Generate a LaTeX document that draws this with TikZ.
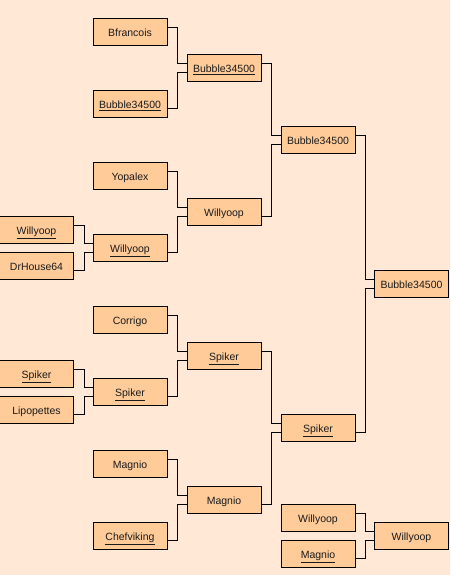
\documentclass[tikz,border=0pt]{standalone}
\usepackage{fontspec}
\setmainfont{Liberation Sans}
\definecolor{bgc}{HTML}{FFE9D6}
\definecolor{boxc}{HTML}{FFCC99}
\definecolor{txtc}{HTML}{1A1A1A}
\begin{document}
\begin{tikzpicture}[x=1pt,y=-1pt,
  team/.style={draw=black,line width=0.9pt,fill=boxc,minimum width=74pt,minimum height=27pt,inner sep=0pt,text height=10.5pt,text depth=0pt,text=txtc,font=\fontsize{10.5}{12}\selectfont},
  link/.style={draw=black,line width=0.9pt}]
\fill[bgc] (0,0) rectangle (450,575);
\useasboundingbox (0,0) rectangle (450,575);
% round 0
\node[team] (w0) at (36.5,229.5) {\underline{Willyoop}};
\node[team] (dh) at (36.5,265.5) {DrHouse64};
\node[team] (s0) at (36.5,373.5) {\underline{Spiker}};
\node[team] (lp) at (36.5,409.5) {Lipopettes};
% round 1
\node[team] (bf) at (130,31.5) {Bfrancois};
\node[team] (b1) at (130,103.5) {\underline{Bubble34500}};
\node[team] (yo) at (130,175.5) {Yopalex};
\node[team] (w1) at (130,247.5) {\underline{Willyoop}};
\node[team] (co) at (130,319.5) {Corrigo};
\node[team] (s1) at (130,391.5) {\underline{Spiker}};
\node[team] (m1) at (130,463.5) {Magnio};
\node[team] (ch) at (130,535.5) {\underline{Chefviking}};
% round 2
\node[team] (b2) at (224,67.5) {\underline{Bubble34500}};
\node[team] (w2) at (224,211.5) {Willyoop};
\node[team] (s2) at (224,355.5) {\underline{Spiker}};
\node[team] (m2) at (224,499.5) {Magnio};
% round 3
\node[team] (b3) at (318,139.5) {Bubble34500};
\node[team] (s3) at (318,427.5) {\underline{Spiker}};
% final
\node[team] (b4) at (411.5,283.5) {Bubble34500};
% separate match
\node[team] (wb) at (318,517.5) {Willyoop};
\node[team] (mb) at (318,553.5) {\underline{Magnio}};
\node[team] (wf) at (411.5,535.5) {Willyoop};
% connectors
\foreach \t/\b/\p in {w0/dh/w1, s0/lp/s1, bf/b1/b2, yo/w1/w2, co/s1/s2, m1/ch/m2, b2/w2/b3, s2/m2/s3, b3/s3/b4, wb/mb/wf}{
  \draw[link] ([yshift=4.5pt]\t.east) -- ++(10,0) |- ([yshift=4.5pt]\p.west);
  \draw[link] ([yshift=-4.5pt]\b.east) -- ++(10,0) |- ([yshift=-4.5pt]\p.west);
}
\end{tikzpicture}
\end{document}
